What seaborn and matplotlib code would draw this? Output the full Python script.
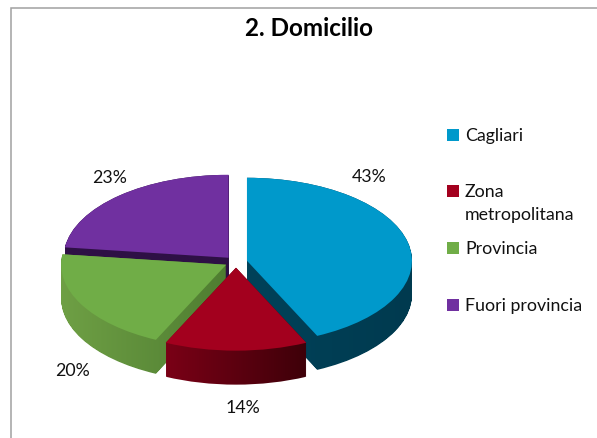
import numpy as np
import seaborn as sns
import matplotlib.pyplot as plt
from matplotlib.path import Path
from matplotlib.patches import PathPatch, Rectangle
from matplotlib.transforms import Affine2D

title = '2. Domicilio'
categories = ['Cagliari', 'Zona\nmetropolitana', 'Provincia', 'Fuori provincia']
percent = [43, 14, 20, 23]

top_colors = ['#0099CB', '#A3001E', '#70AD47', '#7030A0']
wall_left = ['#004259', '#7A0016', '#6FA045', '#2E1045']
wall_right = ['#003A4F', '#3E0009', '#4F7D31', '#2E1045']

# pixel layout of the picture
W, H = 597, 439
RX, RY = 165, 83
CX, CY = 236, 263
DEPTH = 34

sns.set_theme(style='white')
plt.rcParams['font.family'] = ['Lato', 'DejaVu Sans']

fig = plt.figure(figsize=(W / 100, H / 100), dpi=100)
ax = fig.add_axes([0, 0, 1, 1])

wedges, _ = ax.pie(percent, colors=sns.color_palette(top_colors), startangle=90, counterclock=False,
                   explode=[0.068] * 4, center=(0, 0), radius=1, wedgeprops={'linewidth': 0})
ax.set_aspect('auto')
ax.axis('off')

# back to front: purple, blue, green, red
z = 1
for i in [3, 0, 2, 1]:
    wedge = wedges[i]
    outline = wedge.get_path().transformed(wedge.get_patch_transform())

    # the side wall is the slice swept downwards
    steps = [Affine2D().translate(0, -d / RY).transform_path(outline) for d in np.linspace(0, DEPTH, 35)]
    wall = Path.make_compound_path(*steps)
    x0, y0 = wall.vertices.min(axis=0)
    x1, y1 = wall.vertices.max(axis=0)

    cmap = sns.blend_palette([wall_left[i], wall_right[i]], as_cmap=True)
    img = ax.imshow(np.linspace(0, 1, 128).reshape(1, -1), cmap=cmap, extent=(x0, x1, y0, y1),
                    aspect='auto', zorder=z, interpolation='bilinear')
    img.set_clip_path(PathPatch(wall, transform=ax.transData))
    wedge.set_zorder(z + 1)
    z += 2

ax.set_xlim(-CX / RX, (W - CX) / RX)
ax.set_ylim((CY - H) / RY, CY / RY)

# overlay in pixels for the chart frame, texts and legend
over = fig.add_axes([0, 0, 1, 1], facecolor='none')
over.set_xlim(0, W)
over.set_ylim(H, 0)
over.axis('off')

over.plot([10.5, 10.5, W], [H, 9, 9], color='#A0A0A0', lw=1.1, solid_joinstyle='miter')
over.text(309, 29, title, ha='center', va='center', fontsize=17.5, fontweight='bold', color='black')

label_pos = [(369, 177), (243, 408), (72, 371), (110, 178)]
for value, (x, y) in zip(percent, label_pos):
    over.text(x, y, f'{value}%', ha='center', va='center', fontsize=12.8, color='#111111')

legend_y = [136, 192, 249, 306]
for name, color, y in zip(categories, top_colors, legend_y):
    over.add_patch(Rectangle((447, y - 6), 12, 12, color=color, lw=0))
    over.text(465, y - 8, name, ha='left', va='top', fontsize=12.8, color='#111111', linespacing=1.55)

fig.savefig('out.png', dpi=100)
